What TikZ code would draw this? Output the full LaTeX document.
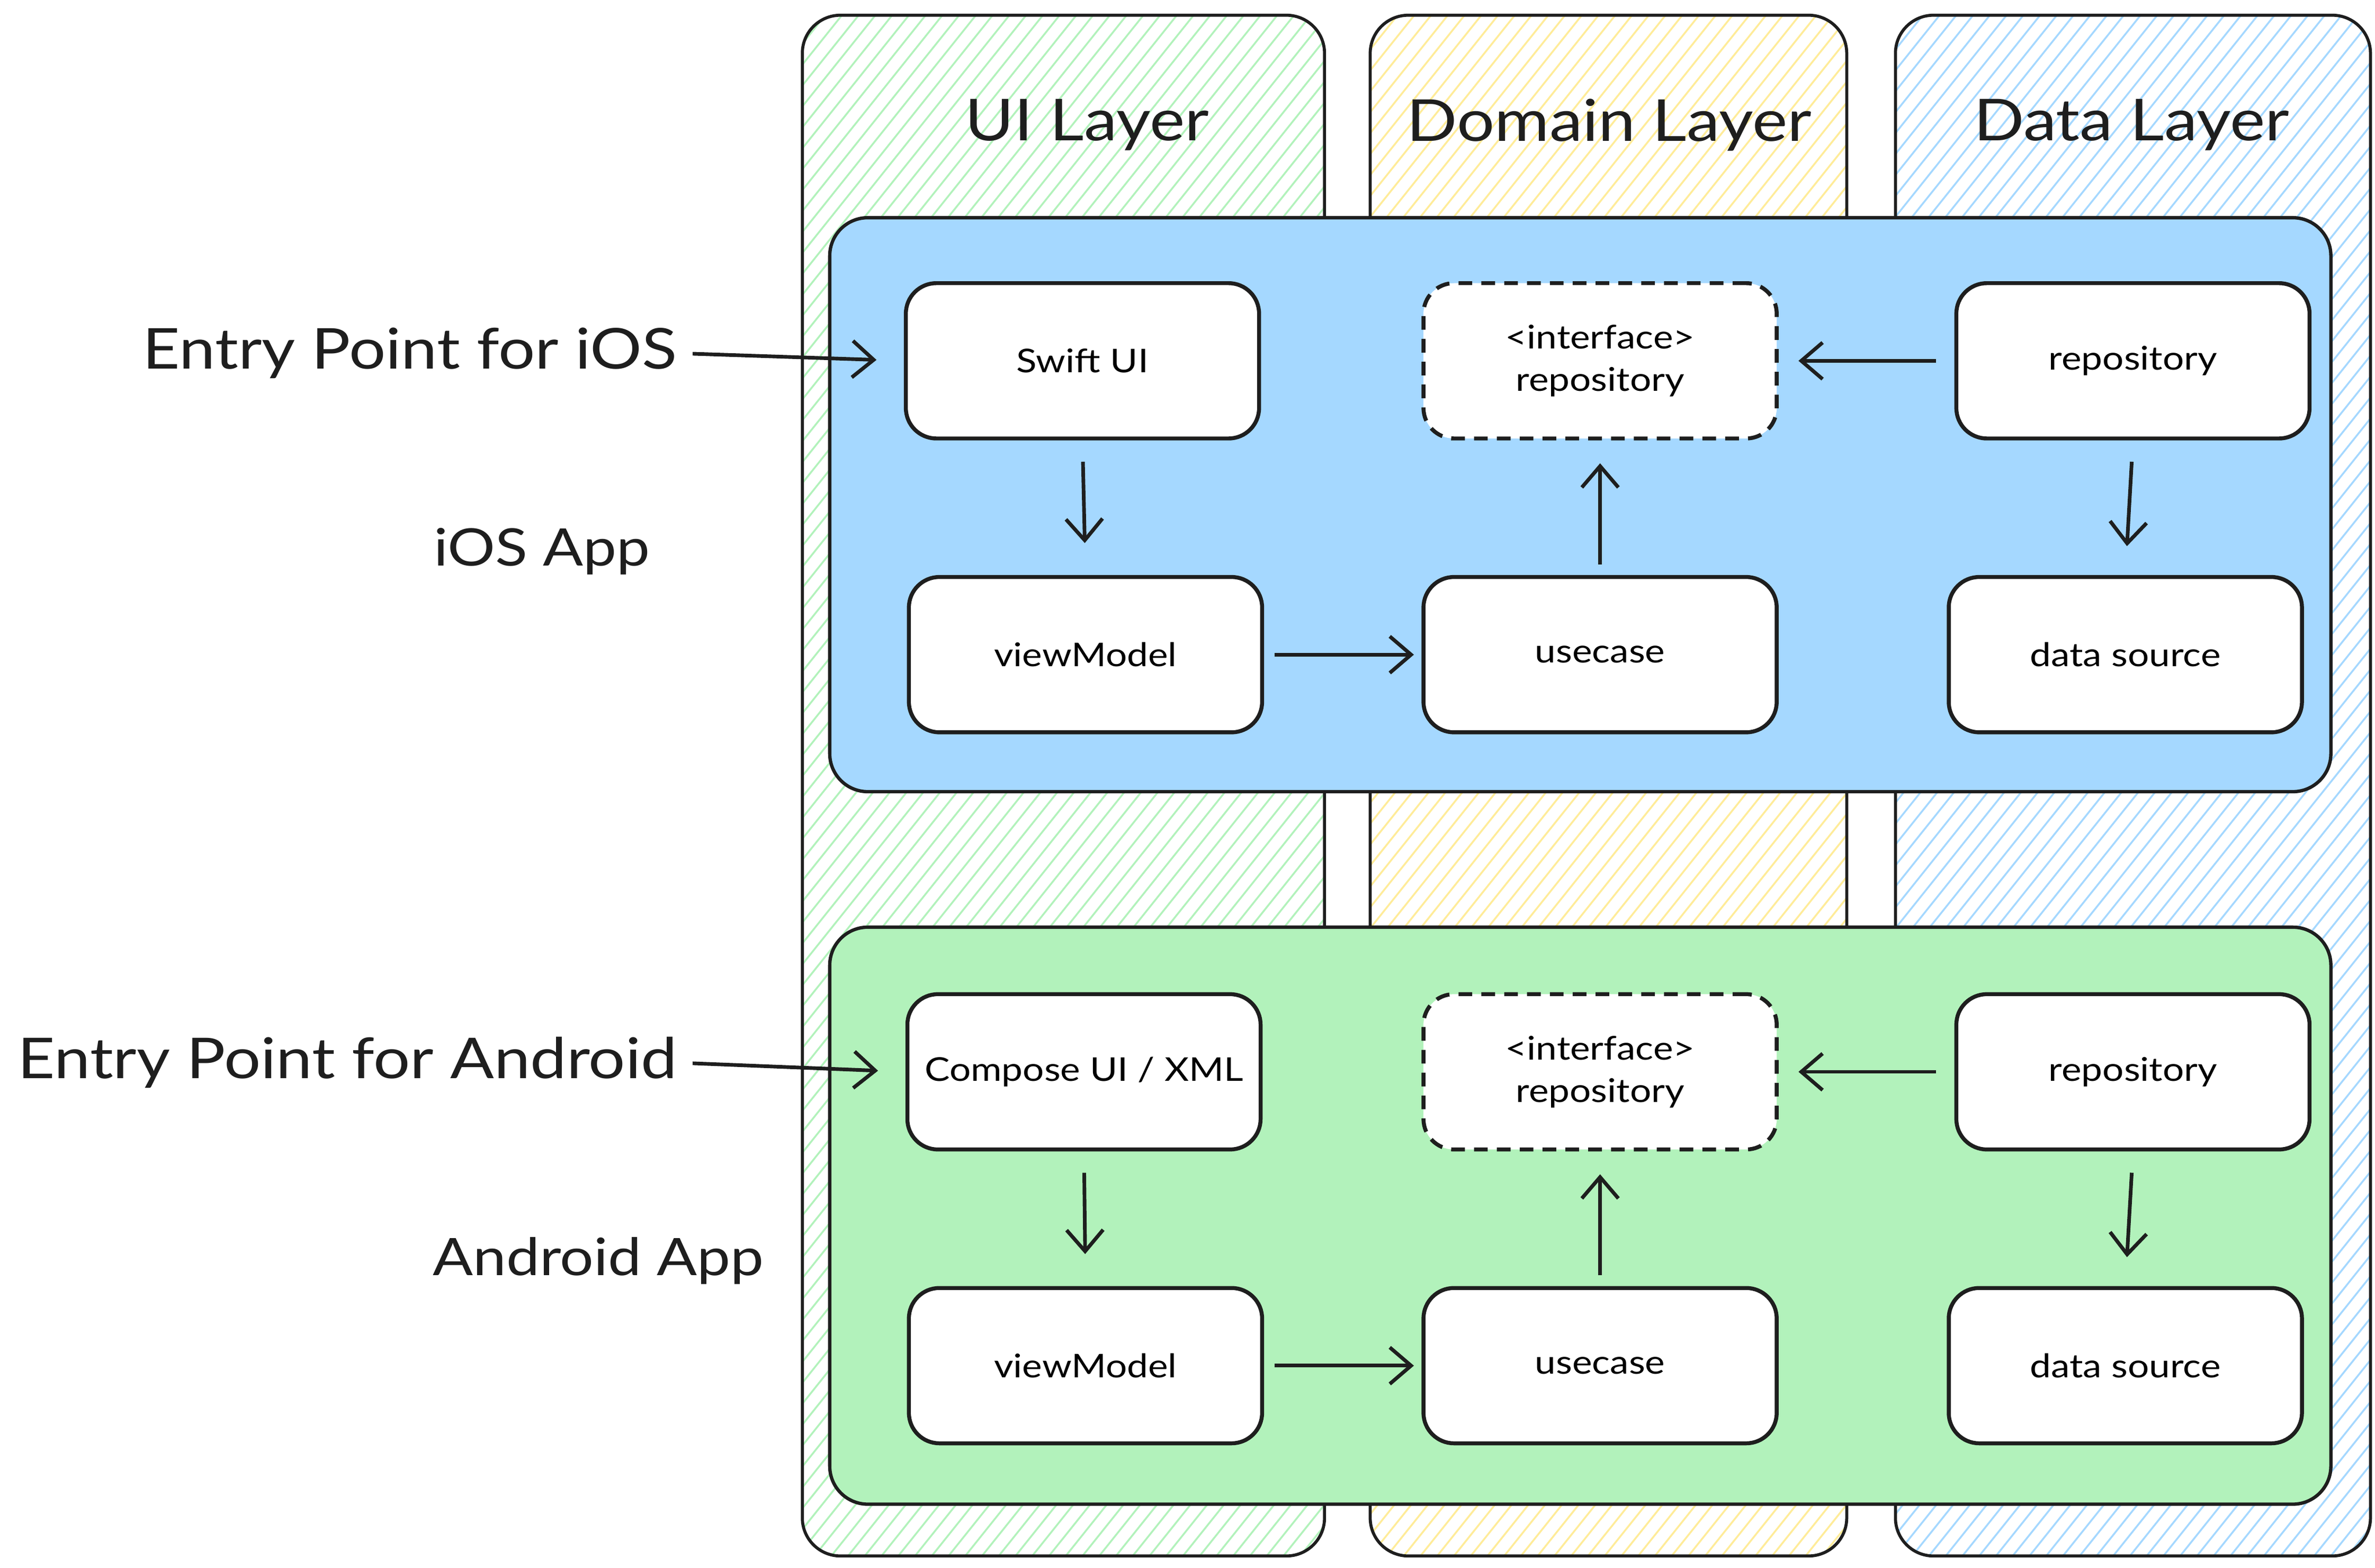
\documentclass[tikz,border=0pt]{standalone}
\usepackage{fontspec}
\setmainfont[FakeStretch=1.15]{Lato}
\usetikzlibrary{arrows.meta}
\definecolor{ink}{HTML}{1E1E1E}
\definecolor{blueF}{HTML}{A5D8FF}
\definecolor{greenF}{HTML}{B2F2BB}
\definecolor{yellowH}{HTML}{FFEC99}
\tikzset{
  colline/.style={draw=ink, line width=2pt, rounded corners=25pt},
  hatchline/.style={line width=1.2pt},
  panel/.style={draw=ink, line width=2.2pt, rounded corners=25pt},
  box/.style={draw=ink, fill=white, line width=2.6pt, rounded corners=20pt,
    minimum width=232pt, minimum height=102pt, inner sep=0pt, align=center,
    font=\fontsize{21.5}{28}\selectfont},
  ibox/.style={box, dashed, dash pattern=on 9pt off 6pt},
  title/.style={font=\fontsize{38}{44}\selectfont, text=ink, inner sep=0pt},
  lbl/.style={font=\fontsize{37}{42}\selectfont, text=ink, inner sep=0pt},
  applbl/.style={font=\fontsize{34}{40}\selectfont, text=ink, inner sep=0pt},
  conn/.style={draw=ink, line width=2.4pt, -{Straight Barb[length=14pt,width=24pt,line width=2.4pt]}},
}
\begin{document}
\begin{tikzpicture}[x=1pt,y=-1pt]
\useasboundingbox (0,0) rectangle (1560,1029.6);
\fill[white] (0,0) rectangle (1560,1029.6);
% columns with hatching
\begin{scope}
\clip[rounded corners=25pt] (527,10) rectangle (870,1022);
\foreach \x in {-290,-279,...,870} \draw[hatchline, greenF] (\x,1022) -- ++(810,-1012);
\end{scope}
\draw[colline] (527,10) rectangle (870,1022);
\begin{scope}
\clip[rounded corners=25pt] (900,10) rectangle (1213,1022);
\foreach \x in {86,97,...,1213} \draw[hatchline, yellowH] (\x,1022) -- ++(810,-1012);
\end{scope}
\draw[colline] (900,10) rectangle (1213,1022);
\begin{scope}
\clip[rounded corners=25pt] (1245,10) rectangle (1557,1022);
\foreach \x in {431,442,...,1557} \draw[hatchline, blueF] (\x,1022) -- ++(810,-1012);
\end{scope}
\draw[colline] (1245,10) rectangle (1557,1022);
% titles
\node[title] (tui) at (714,82) {UI Layer};
\node[title] (tdom) at (1057,82) {Domain Layer};
\node[title] (tdata) at (1400,82) {Data Layer};
% panels
\draw[panel, fill=blueF] (545,143) rectangle (1531,520);
\draw[panel, fill=greenF] (545,609) rectangle (1531,988);
% iOS nodes
\node[box] (swift) at (711,237) {Swift UI};
\node[ibox] (iface1) at (1051,237) {<interface>\\repository};
\node[box] (repo1) at (1401,237) {repository};
\node[box] (vm1) at (713,430) {viewModel};
\node[box] (uc1) at (1051,430) {usecase};
\node[box] (ds1) at (1396,430) {data source};
% Android nodes
\node[box] (compose) at (712,704) {Compose UI / XML};
\node[ibox] (iface2) at (1051,704) {<interface>\\repository};
\node[box] (repo2) at (1401,704) {repository};
\node[box] (vm2) at (713,897) {viewModel};
\node[box] (uc2) at (1051,897) {usecase};
\node[box] (ds2) at (1396,897) {data source};
% labels
\node[lbl, anchor=east] (entry1) at (445,232) {Entry Point for iOS};
\node[applbl] (app1) at (356,362) {iOS App};
\node[lbl, anchor=east] (entry2) at (445,698) {Entry Point for Android};
\node[applbl] (app2) at (393,828) {Android App};
% iOS connectors
\draw[conn, shorten <=10pt, shorten >=18pt] (entry1.east) -- (swift.west);
\draw[conn, shorten <=14pt, shorten >=21pt] (swift.south) -- (vm1.north);
\draw[conn, shorten <=7pt, shorten >=5pt] (vm1.east) -- (uc1.west);
\draw[conn, shorten <=7pt, shorten >=15pt] (uc1.north) -- (iface1.south);
\draw[conn, shorten <=12pt, shorten >=13pt] (repo1.west) -- (iface1.east);
\draw[conn, shorten <=14pt, shorten >=19pt] (repo1.south) -- (ds1.north);
% Android connectors
\draw[conn, shorten <=10pt, shorten >=18pt] (entry2.east) -- (compose.west);
\draw[conn, shorten <=14pt, shorten >=21pt] (compose.south) -- (vm2.north);
\draw[conn, shorten <=7pt, shorten >=5pt] (vm2.east) -- (uc2.west);
\draw[conn, shorten <=7pt, shorten >=15pt] (uc2.north) -- (iface2.south);
\draw[conn, shorten <=12pt, shorten >=13pt] (repo2.west) -- (iface2.east);
\draw[conn, shorten <=14pt, shorten >=19pt] (repo2.south) -- (ds2.north);
\end{tikzpicture}
\end{document}
